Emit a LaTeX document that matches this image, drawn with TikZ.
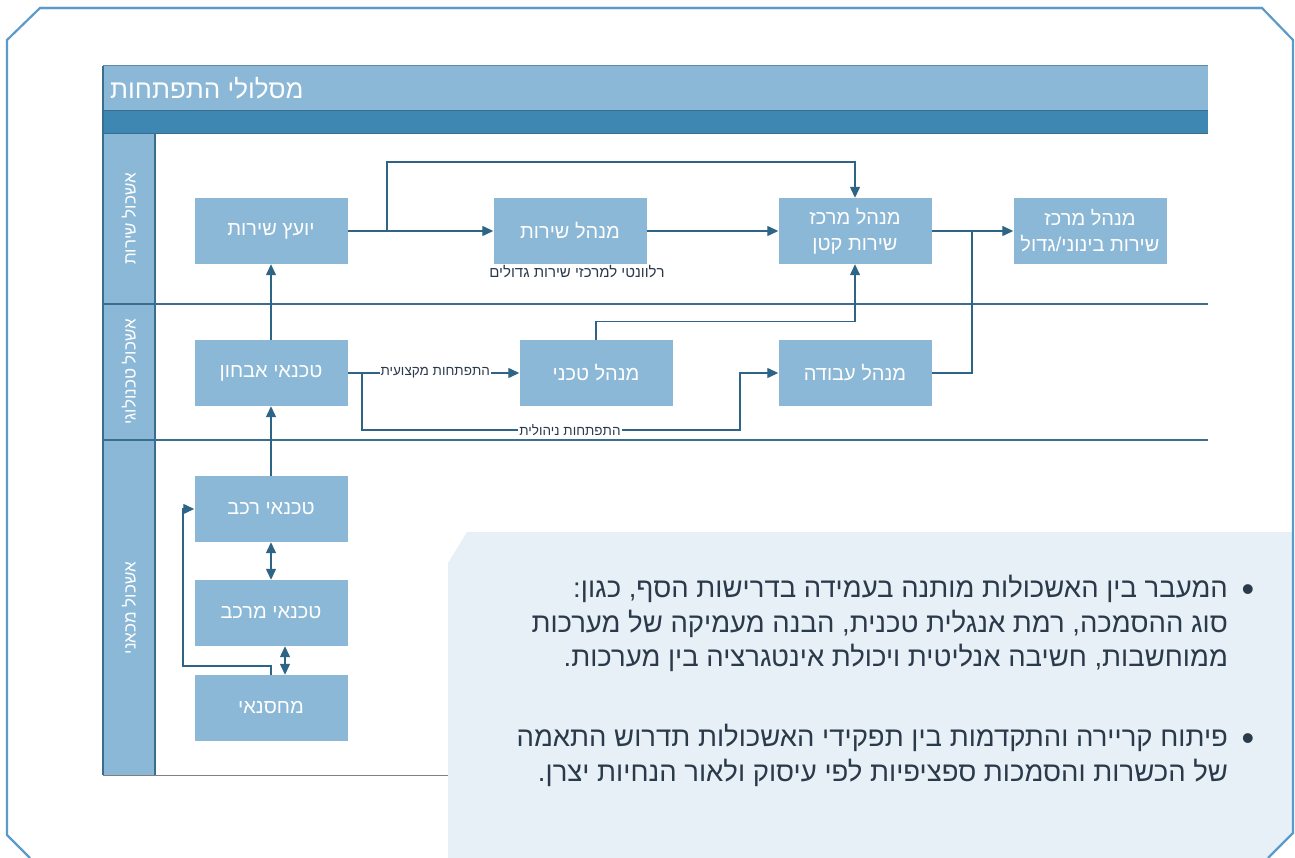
\documentclass[tikz,border=0pt]{standalone}
\usepackage{fontspec}
\usetikzlibrary{arrows.meta}
\setmainfont{Liberation Sans}
\newfontfamily\hebfont[Script=Hebrew]{Liberation Sans}
\TeXXeTstate=1
\newcommand{\heb}[1]{\beginR #1\endR}
\definecolor{framecol}{HTML}{5B9BC9}
\definecolor{boxblue}{HTML}{8AB8D6}
\definecolor{bandblue}{HTML}{3F87B3}
\definecolor{lanecol}{HTML}{3A6E8F}
\definecolor{conncol}{HTML}{2E6486}
\definecolor{notefill}{HTML}{E8F0F7}
\definecolor{inkcol}{HTML}{2B3A4A}

\begin{document}
\begin{tikzpicture}[x=1pt,y=-1pt]
\tikzstyle{every node}+=[inner sep=0pt]
\tikzstyle{box}=[fill=boxblue, minimum width=153, minimum height=66, text=white, align=center, font=\hebfont\fontsize{20}{26}\selectfont]
\tikzstyle{lanelbl}=[rotate=90, text=white, font=\hebfont\fontsize{17}{20}\selectfont]
\tikzstyle{conn}=[conncol, line width=1.3, -{Triangle[length=11,width=10]}]
\tikzstyle{both}=[conncol, line width=1.3, {Triangle[length=11,width=10]}-{Triangle[length=11,width=10]}]
\tikzstyle{lbl}=[fill=white, text=inkcol, inner sep=1pt, font=\hebfont\fontsize{13.5}{15}\selectfont]
\tikzstyle{notetext}=[anchor=north east, align=right, text=inkcol, font=\hebfont\fontsize{27.5}{34.5}\selectfont]
\useasboundingbox (0,0) rectangle (1295,858);
\fill[boxblue] (103,66) rectangle (1208,111);
\fill[bandblue] (103,111) rectangle (1208,134);
\draw[lanecol!80, line width=1] (103,66) -- (1208,66);
\draw[lanecol, line width=1] (103,111) -- (1208,111);
\draw[lanecol, line width=1] (103,134) -- (1208,134);
\node[anchor=west, text=white, font=\hebfont\fontsize{26}{30}\selectfont] (title) at (110,88) {\heb{מסלולי התפתחות}};
\fill[boxblue] (103,134) rectangle (155,775);
\draw[lanecol, line width=1.2] (103,66) -- (103,775);
\draw[lanecol, line width=1.2] (155,134) -- (155,775);
\draw[lanecol, line width=1.2] (103,304) -- (1208,304);
\draw[lanecol, line width=1.2] (103,440) -- (1208,440);
\draw[gray, line width=0.8] (103,775) -- (1208,775);
\node[lanelbl] (lanesvc) at (129,219) {\heb{אשכול שירות}};
\node[lanelbl] (lanetech) at (129,372) {\heb{אשכול טכנולוגי}};
\node[lanelbl] (lanemech) at (129,608) {\heb{אשכול מכאני}};
\node[box] (advisor) at (271,231) {\heb{יועץ שירות}};
\node[box] (svcmgr) at (570,231) {\heb{מנהל שירות}};
\node[box] (smallctr) at (855,231) {\heb{מנהל מרכז}\\\heb{שירות קטן}};
\node[box] (bigctr) at (1090,231) {\heb{מנהל מרכז}\\\heb{שירות בינוני/גדול}};
\node[box] (diag) at (271,373) {\heb{טכנאי אבחון}};
\node[box] (techmgr) at (596,373) {\heb{מנהל טכני}};
\node[box] (workmgr) at (855,373) {\heb{מנהל עבודה}};
\node[box] (vehtech) at (271,509) {\heb{טכנאי רכב}};
\node[box] (bodytech) at (271,613) {\heb{טכנאי מרכב}};
\node[box] (store) at (271,708) {\heb{מחסנאי}};
\node[lbl, fill=none, font=\hebfont\fontsize{15}{17}\selectfont] (bignote) at (577,272) {\heb{רלוונטי למרכזי שירות גדולים}};
\coordinate (split) at (387,231);
\coordinate (toprun) at (387,162);
\coordinate (joint) at (972,231);
\coordinate (fork) at (362,373);
\coordinate (mgmt) at (740,430);
\coordinate (loop) at (183,666);
\draw[conn] (advisor) -- (svcmgr);
\draw[conn] (split) -- (toprun) -| (smallctr.north);
\draw[conn] (svcmgr) -- (smallctr);
\draw[conn] (smallctr) -- (bigctr);
\draw[conncol, line width=1.3] (workmgr.east) -| (joint);
\draw[conn] (techmgr.north) -- ++(0,-18) -| (smallctr.south);
\draw[conn] (diag) -- (techmgr) node[lbl, pos=0.51] (proflbl) {\heb{התפתחות מקצועית}};
\draw[conn] (fork) |- (mgmt) |- (workmgr.west);
\node[lbl] (mgmtlbl) at (570,430) {\heb{התפתחות ניהולית}};
\draw[conn] (diag) -- (advisor);
\draw[conn] (vehtech) -- (diag);
\draw[both] (vehtech) -- (bodytech);
\draw[both] ([xshift=14]bodytech.south) -- ([xshift=14]store.north);
\draw[conn] (store.north) |- (loop) |- (vehtech.west);
\fill[notefill] (448,563) -- (467,532) -- (1293,532) -- (1293,833) -- (1268,858) -- (448,858) -- cycle;
\node[notetext] (note1) at (1228,575) {\heb{המעבר בין האשכולות מותנה בעמידה בדרישות הסף, כגון:}\\\heb{סוג ההסמכה, רמת אנגלית טכנית, הבנה מעמיקה של מערכות}\\\heb{ממוחשבות, חשיבה אנליטית ויכולת אינטגרציה בין מערכות.}};
\node[notetext] (note2) at (1228,724) {\heb{פיתוח קריירה והתקדמות בין תפקידי האשכולות תדרוש התאמה}\\\heb{של הכשרות והסמכות ספציפיות לפי עיסוק ולאור הנחיות יצרן.}};
\node[text=inkcol, font=\hebfont\fontsize{36}{36}\selectfont] (dot1) at (1248,593) {•};
\node[text=inkcol, font=\hebfont\fontsize{36}{36}\selectfont] (dot2) at (1248,742) {•};
\draw[framecol, line width=2.2] (40,8) -- (1262,8) -- (1293,40) -- (1293,833) -- (1268,858);
\draw[framecol, line width=2.2] (1262,8) -- (40,8) -- (7,40) -- (7,835) -- (30,858);
\end{tikzpicture}
\end{document}
